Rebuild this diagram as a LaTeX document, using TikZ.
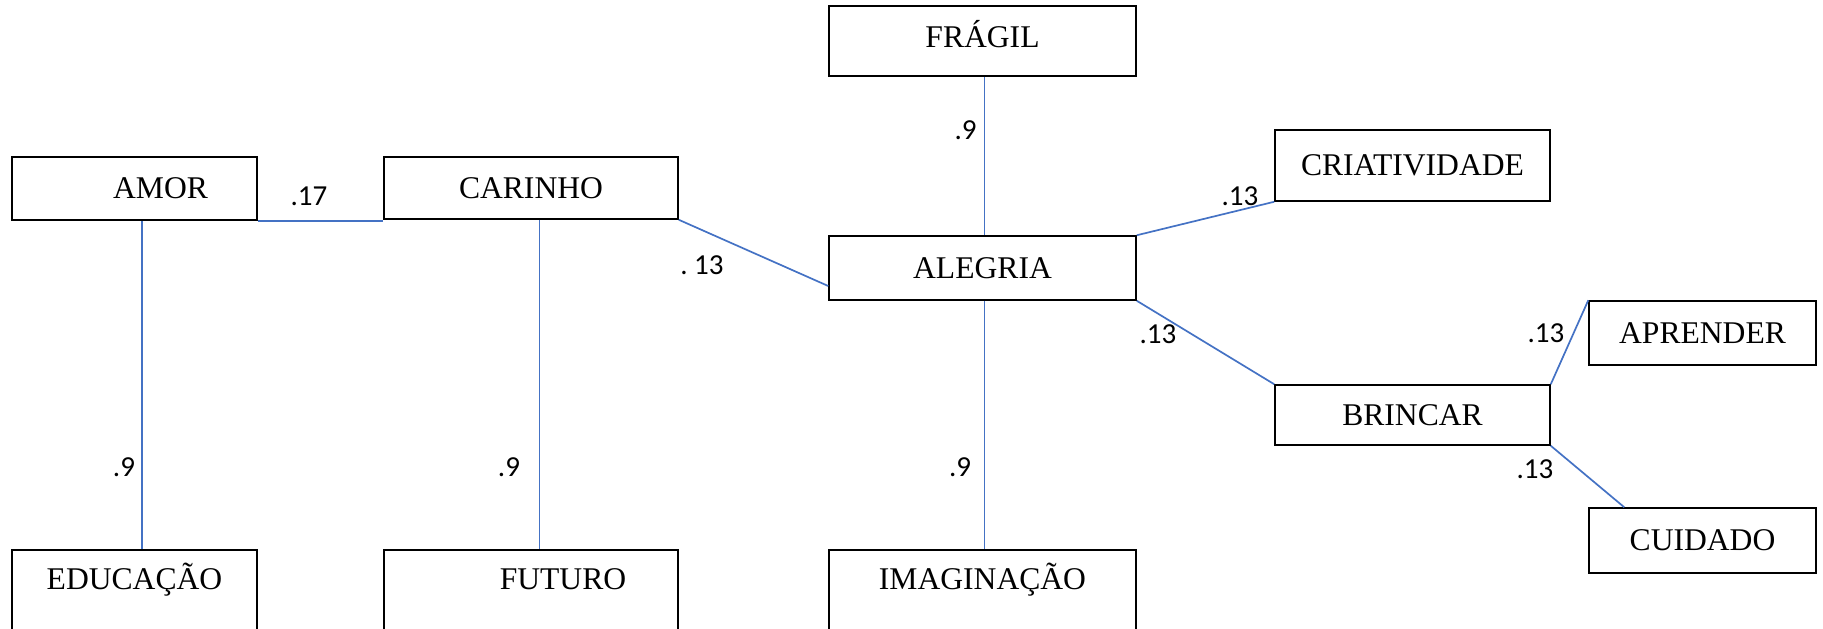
\documentclass[tikz,border=0pt]{standalone}
\usepackage{fontspec}
\setmainfont{Liberation Serif}
\newfontfamily\lblfont{Carlito}
\definecolor{linkblue}{HTML}{4472C4}
\begin{document}
\begin{tikzpicture}[x=0.5pt,y=-0.5pt,
  box/.style={draw=black, line width=0.75pt, rectangle, inner sep=0pt, align=center,
    font=\fontsize{15.8}{18}\selectfont},
  bottombox/.style={box, anchor=north, text height=19.75pt, text depth=31pt},
  link/.style={draw=linkblue, line width=0.85pt},
  wt/.style={font=\lblfont\fontsize{14.5}{17}\selectfont, inner sep=0pt}]
\clip (0,0) rectangle (1823,628);
% boxes
\node[box, minimum width=153.5pt, minimum height=35pt, text height=11pt, text depth=3pt] (fragil) at (982.5,41) {\raisebox{1pt}{FRÁGIL}};
\node[box, line width=1.1pt, minimum width=122.5pt, minimum height=31.5pt] (amor) at (134.5,188.5) {\hspace*{26pt}AMOR};
\node[box, minimum width=147pt, minimum height=31pt] (carinho) at (531,188) {CARINHO};
\node[box, minimum width=137.5pt, minimum height=35.5pt] (criat) at (1412.5,165.5) {CRIATIVIDADE};
\node[box, minimum width=153.5pt, minimum height=32pt] (alegria) at (982.5,268) {ALEGRIA};
\node[box, minimum width=113.5pt, minimum height=32pt] (aprender) at (1702.5,333) {APRENDER};
\node[box, minimum width=137.5pt, minimum height=30pt] (brincar) at (1412.5,415) {BRINCAR};
\node[box, minimum width=113.5pt, minimum height=32.5pt] (cuidado) at (1702.5,540.5) {CUIDADO};
\node[bottombox, minimum width=122.5pt] (educ) at (134.5,549) {EDUCAÇÃO};
\node[bottombox, minimum width=147pt] (futuro) at (531,549) {\hspace*{32pt}FUTURO};
\node[bottombox, minimum width=153.5pt] (imag) at (982.5,549) {IMAGINAÇÃO};
% connectors
\draw[link] (amor.south east) -- (amor.south east -| carinho.west);
\draw[link] ([xshift=3.8pt]amor.south) -- ([xshift=3.8pt]educ.north);
\draw[link] ([xshift=4.2pt]carinho.south) -- ([xshift=4.2pt]futuro.north);
\draw[link] (carinho.south east) -- ([yshift=-9pt]alegria.west);
\draw[link] ([xshift=1pt]fragil.south) -- ([xshift=1pt]alegria.north);
\draw[link] ([xshift=1pt]alegria.south) -- ([xshift=1pt]imag.north);
\draw[link] (alegria.north east) -- (criat.south west);
\draw[link] (alegria.south east) -- (brincar.north west);
\draw[link] (brincar.north east) -- (aprender.north west);
\draw[link] (brincar.south east) -- ([xshift=18pt]cuidado.north west);
% weights
\node[wt] (w1) at (309,196) {.17};
\node[wt] (w2) at (702,265) {.\ 13};
\node[wt] (w3) at (965.5,130) {.9};
\node[wt] (w4) at (1240,196) {.13};
\node[wt] (w5) at (1158,334) {.13};
\node[wt] (w6) at (1546,333) {.13};
\node[wt] (w7) at (1535,469) {.13};
\node[wt] (w8) at (124,467) {.9};
\node[wt] (w9) at (509,467) {.9};
\node[wt] (w10) at (960,467) {.9};
\end{tikzpicture}
\end{document}
